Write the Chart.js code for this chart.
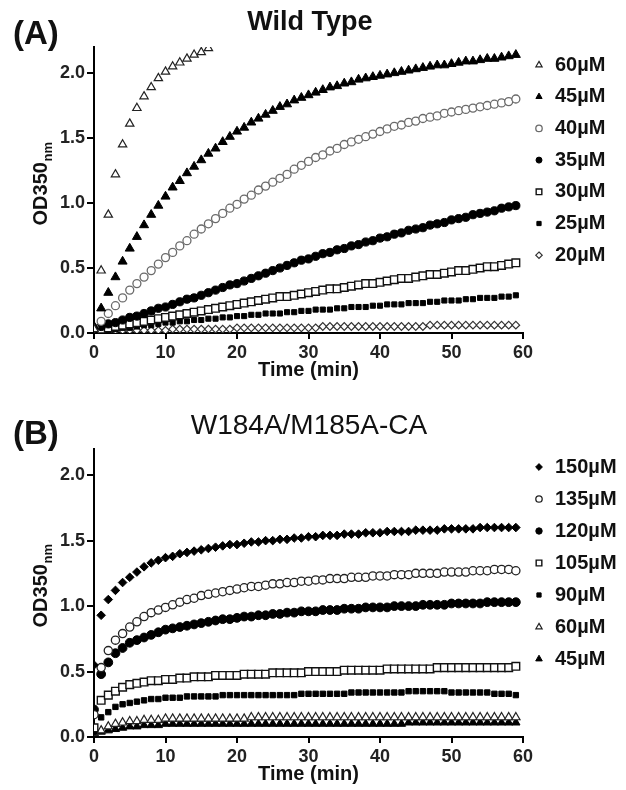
<!DOCTYPE html>
<html><head><meta charset="utf-8">
<script src="https://cdn.jsdelivr.net/npm/chart.js@4.4.1/dist/chart.umd.min.js"></script>
<style>
html,body{margin:0;padding:0;background:#fff;}
#wrap{position:relative;width:626px;height:790px;overflow:hidden;}
canvas{position:absolute;left:0;}
#c1{top:0}
#c2{top:395px}
</style></head><body>
<div id="wrap"><canvas id="c1" width="626" height="395"></canvas><canvas id="c2" width="626" height="395"></canvas></div>
<script>
// ---------- DATA ----------
const time = [0,1,2,3,4,5,6,7,8,9,10,11,12,13,14,15,16,17,18,19,20,21,22,23,24,25,26,27,28,29,
  30,31,32,33,34,35,36,37,38,39,40,41,42,43,44,45,46,47,48,49,50,51,52,53,54,55,56,57,58,59];
const xTicks = [0,10,20,30,40,50,60];
const yTicks = [0.0,0.5,1.0,1.5,2.0];

// Panel A: Wild Type
const wtLabels = ['60µM','45µM','40µM','35µM','30µM','25µM','20µM'];
const wt60 = [0.03,0.48,0.91,1.22,1.45,1.61,1.73,1.82,1.89,1.96,2.01,2.05,2.08,2.11,2.14,2.16,2.19];
const wt45 = [0.05,0.19,0.31,0.43,0.55,0.65,0.74,0.83,0.91,0.98,
  1.05,1.12,1.17,1.23,1.28,1.33,1.38,1.42,1.47,1.51,
  1.55,1.58,1.62,1.65,1.68,1.71,1.74,1.76,1.79,1.81,
  1.83,1.85,1.87,1.89,1.90,1.92,1.93,1.95,1.96,1.97,
  1.98,1.99,2.00,2.01,2.02,2.03,2.04,2.05,2.06,2.06,
  2.07,2.08,2.09,2.09,2.10,2.11,2.11,2.12,2.13,2.14];
const wt40 = [0.04,0.09,0.15,0.21,0.27,0.33,0.38,0.43,0.48,0.53,
  0.58,0.62,0.67,0.71,0.76,0.80,0.84,0.88,0.92,0.96,
  0.99,1.03,1.06,1.10,1.13,1.16,1.19,1.22,1.26,1.29,
  1.32,1.35,1.37,1.40,1.42,1.45,1.47,1.49,1.51,1.53,
  1.55,1.57,1.59,1.60,1.62,1.63,1.65,1.66,1.67,1.69,
  1.70,1.71,1.72,1.73,1.74,1.75,1.76,1.77,1.78,1.80];
const wt35 = [0.03,0.05,0.07,0.08,0.10,0.12,0.13,0.15,0.17,0.19,
  0.20,0.22,0.24,0.26,0.27,0.29,0.31,0.33,0.35,0.37,
  0.38,0.40,0.42,0.44,0.46,0.48,0.50,0.52,0.54,0.56,
  0.57,0.59,0.61,0.62,0.64,0.65,0.67,0.68,0.70,0.71,
  0.73,0.74,0.76,0.77,0.79,0.80,0.81,0.83,0.84,0.85,
  0.87,0.88,0.89,0.91,0.92,0.93,0.94,0.96,0.97,0.98];
const wt30 = [0.02,0.03,0.04,0.05,0.06,0.07,0.08,0.09,0.10,0.11,
  0.12,0.13,0.14,0.15,0.16,0.17,0.18,0.19,0.20,0.21,
  0.22,0.23,0.24,0.25,0.26,0.27,0.28,0.28,0.29,0.30,
  0.31,0.32,0.33,0.34,0.34,0.35,0.36,0.37,0.38,0.38,
  0.39,0.40,0.41,0.42,0.42,0.43,0.44,0.45,0.45,0.46,
  0.47,0.48,0.48,0.49,0.50,0.51,0.51,0.52,0.53,0.54];
const wt25 = [0.01,0.02,0.02,0.03,0.04,0.04,0.05,0.06,0.06,0.07,
  0.08,0.08,0.09,0.09,0.10,0.10,0.11,0.11,0.12,0.12,
  0.13,0.13,0.14,0.14,0.15,0.15,0.15,0.16,0.16,0.17,
  0.17,0.18,0.18,0.18,0.19,0.19,0.20,0.20,0.20,0.21,
  0.21,0.22,0.22,0.22,0.23,0.23,0.23,0.24,0.24,0.25,
  0.25,0.25,0.26,0.26,0.27,0.27,0.27,0.28,0.28,0.29];
const wt20 = [0.01,0.01,0.01,0.02,0.02,0.02,0.02,0.02,0.02,0.02,
  0.02,0.03,0.03,0.03,0.03,0.03,0.03,0.03,0.03,0.03,
  0.04,0.04,0.04,0.04,0.04,0.04,0.04,0.04,0.04,0.04,
  0.04,0.04,0.05,0.05,0.05,0.05,0.05,0.05,0.05,0.05,
  0.05,0.05,0.05,0.05,0.05,0.05,0.05,0.06,0.06,0.06,
  0.06,0.06,0.06,0.06,0.06,0.06,0.06,0.06,0.06,0.06];

// Panel B: W184A/M185A-CA
const mtLabels = ['150µM','135µM','120µM','105µM','90µM','60µM','45µM'];
const mt150 = [0.55,0.93,1.05,1.12,1.18,1.22,1.26,1.30,1.33,1.35,
  1.37,1.38,1.40,1.41,1.42,1.43,1.44,1.45,1.46,1.47,
  1.47,1.48,1.49,1.49,1.50,1.50,1.51,1.51,1.52,1.52,
  1.53,1.53,1.54,1.54,1.54,1.55,1.55,1.55,1.56,1.56,
  1.56,1.57,1.57,1.57,1.57,1.58,1.58,1.58,1.58,1.59,
  1.59,1.59,1.59,1.59,1.60,1.60,1.60,1.60,1.60,1.60];
const mt135 = [0.17,0.53,0.66,0.74,0.79,0.84,0.88,0.92,0.95,0.97,
  0.99,1.01,1.03,1.05,1.06,1.08,1.09,1.10,1.11,1.12,
  1.13,1.14,1.15,1.15,1.16,1.17,1.17,1.18,1.18,1.19,
  1.19,1.20,1.20,1.21,1.21,1.21,1.22,1.22,1.22,1.23,
  1.23,1.23,1.24,1.24,1.24,1.25,1.25,1.25,1.25,1.26,
  1.26,1.26,1.26,1.27,1.27,1.27,1.28,1.28,1.28,1.27];
const mt120 = [0.21,0.48,0.57,0.64,0.68,0.72,0.74,0.76,0.78,0.80,
  0.82,0.83,0.84,0.85,0.86,0.87,0.88,0.89,0.90,0.90,
  0.91,0.92,0.92,0.93,0.93,0.94,0.94,0.95,0.95,0.96,
  0.96,0.96,0.97,0.97,0.97,0.98,0.98,0.98,0.99,0.99,
  0.99,0.99,1.00,1.00,1.00,1.00,1.01,1.01,1.01,1.01,
  1.02,1.02,1.02,1.02,1.02,1.03,1.03,1.03,1.03,1.03];
const mt105 = [0.07,0.28,0.32,0.35,0.38,0.40,0.41,0.42,0.43,0.43,
  0.44,0.44,0.45,0.45,0.46,0.46,0.46,0.47,0.47,0.47,
  0.47,0.48,0.48,0.48,0.48,0.49,0.49,0.49,0.49,0.49,
  0.50,0.50,0.50,0.50,0.50,0.51,0.51,0.51,0.51,0.51,
  0.51,0.52,0.52,0.52,0.52,0.52,0.52,0.52,0.53,0.53,
  0.53,0.53,0.53,0.53,0.53,0.53,0.53,0.53,0.53,0.54];
const mt90 = [0.04,0.15,0.19,0.23,0.25,0.26,0.27,0.28,0.29,0.29,
  0.30,0.30,0.30,0.31,0.31,0.31,0.31,0.31,0.32,0.32,
  0.32,0.32,0.32,0.32,0.32,0.32,0.32,0.32,0.32,0.33,
  0.33,0.33,0.33,0.33,0.33,0.33,0.34,0.34,0.34,0.34,
  0.34,0.34,0.34,0.34,0.35,0.35,0.35,0.35,0.35,0.35,
  0.34,0.34,0.34,0.34,0.34,0.34,0.33,0.33,0.33,0.32];
const mt60 = [0.03,0.05,0.08,0.10,0.11,0.12,0.12,0.13,0.13,0.13,
  0.14,0.14,0.14,0.14,0.14,0.14,0.14,0.14,0.14,0.14,
  0.14,0.14,0.15,0.15,0.15,0.15,0.15,0.15,0.15,0.15,
  0.15,0.15,0.15,0.15,0.15,0.15,0.15,0.15,0.15,0.15,
  0.15,0.15,0.15,0.15,0.15,0.15,0.15,0.15,0.15,0.15,
  0.15,0.15,0.15,0.15,0.15,0.15,0.15,0.15,0.15,0.15];
const mt45 = [0.02,0.04,0.05,0.06,0.07,0.08,0.08,0.09,0.09,0.09,
  0.10,0.10,0.10,0.10,0.10,0.10,0.10,0.10,0.10,0.10,
  0.10,0.10,0.10,0.10,0.10,0.10,0.10,0.10,0.10,0.10,
  0.10,0.10,0.10,0.10,0.10,0.10,0.10,0.10,0.10,0.10,
  0.10,0.10,0.10,0.10,0.11,0.11,0.11,0.11,0.11,0.11,
  0.11,0.11,0.11,0.11,0.11,0.11,0.11,0.11,0.11,0.11];

// ---------- STYLES ----------
const FONT = "'Liberation Sans', Arial, Helvetica, sans-serif";
const WHITE = '#ffffff', BLACK = '#000000';
const wtStyles = [
  {style:'triangle', r:4.8, fill:WHITE, stroke:'#222', lw:1.2, lr:3.6},
  {style:'triangle', r:5.2, fill:BLACK, stroke:BLACK, lw:1, lr:3.6},
  {style:'circle',   r:4.0, fill:WHITE, stroke:'#6a6a6a', lw:1.3, lr:3.2},
  {style:'circle',   r:4.1, fill:BLACK, stroke:BLACK, lw:1, lr:3.0},
  {style:'rect',     r:5.4, fill:WHITE, stroke:'#111', lw:1.4, lr:4.0},
  {style:'rect',     r:3.6, fill:BLACK, stroke:BLACK, lw:1, lr:3.0},
  {style:'rectRot',  r:3.8, fill:WHITE, stroke:'#333', lw:1.2, lr:3.2}
];
const mtStyles = [
  {style:'rectRot',  r:4.3, fill:BLACK, stroke:BLACK, lw:1, lr:3.4},
  {style:'circle',   r:4.1, fill:WHITE, stroke:'#222', lw:1.3, lr:3.2},
  {style:'circle',   r:4.4, fill:BLACK, stroke:BLACK, lw:1, lr:3.2},
  {style:'rect',     r:5.4, fill:WHITE, stroke:'#111', lw:1.4, lr:4.0},
  {style:'rect',     r:3.8, fill:BLACK, stroke:BLACK, lw:1, lr:3.0},
  {style:'triangle', r:4.8, fill:WHITE, stroke:'#222', lw:1.2, lr:3.6},
  {style:'triangle', r:4.8, fill:BLACK, stroke:BLACK, lw:1, lr:3.8}
];

function pts(vals){ return vals.map((v,i)=>({x: time[i], y: v})); }

function drawMarker(ctx, s, x, y, r){
  ctx.save();
  ctx.beginPath();
  ctx.lineWidth = s.lw; ctx.strokeStyle = s.stroke; ctx.fillStyle = s.fill;
  if (s.style === 'circle') { ctx.arc(x, y, r, 0, Math.PI*2); }
  else if (s.style === 'triangle') {
    ctx.moveTo(x, y - r);
    ctx.lineTo(x + r*Math.sin(Math.PI/3), y + r*0.5);
    ctx.lineTo(x - r*Math.sin(Math.PI/3), y + r*0.5);
    ctx.closePath();
  } else if (s.style === 'rect') {
    const h = r*Math.SQRT1_2; ctx.rect(x-h, y-h, 2*h, 2*h);
  } else if (s.style === 'rectRot') {
    ctx.moveTo(x, y-r); ctx.lineTo(x+r, y); ctx.lineTo(x, y+r); ctx.lineTo(x-r, y); ctx.closePath();
  }
  ctx.fill(); ctx.stroke();
  ctx.restore();
}

const decor = {
  id: 'decor',
  afterDraw(chart, args, o){
    const ctx = chart.ctx;
    ctx.save();
    ctx.fillStyle = '#111';
    ctx.textBaseline = 'middle';
    // panel label
    ctx.textAlign = 'left';
    ctx.font = `bold ${o.panelSize}px ${FONT}`;
    ctx.fillText(o.panel, o.panelX, o.panelY);
    // title
    ctx.textAlign = 'center';
    ctx.font = `${o.titleWeight} ${o.titleSize}px ${FONT}`;
    ctx.fillText(o.title, o.titleX, o.titleY);
    // y-axis title with subscript
    ctx.save();
    ctx.textBaseline = 'alphabetic';
    ctx.textAlign = 'left';
    const mainF = `bold 20px ${FONT}`, subF = `bold 13px ${FONT}`;
    ctx.font = mainF; const w1 = ctx.measureText('OD350').width;
    ctx.font = subF; const w2 = ctx.measureText('nm').width;
    ctx.translate(o.yTitleX, o.yTitleY);
    ctx.rotate(-Math.PI/2);
    const start = -(w1 + w2)/2;
    ctx.font = mainF; ctx.fillText('OD350', start, 0);
    ctx.font = subF; ctx.fillText('nm', start + w1 + 0.5, 5);
    ctx.restore();
    // legend
    ctx.textAlign = 'left';
    ctx.font = `bold 20px ${FONT}`;
    o.labels.forEach((lab, i) => {
      const y = o.legY + i*o.legStep;
      drawMarker(ctx, o.styles[i], o.legMX, y, o.styles[i].lr);
      ctx.fillStyle = '#111';
      ctx.fillText(lab, o.legTX, y);
    });
    ctx.restore();
  }
};

function makeChart(id, labels, seriesVals, styles, cfg){
  const tickFont = {family: FONT, size: 18, weight: 'bold'};
  return new Chart(document.getElementById(id), {
    type: 'scatter',
    data: {
      datasets: seriesVals.map((vals, i) => ({
        label: labels[i],
        data: pts(vals),
        pointStyle: styles[i].style,
        pointRadius: styles[i].r,
        pointHoverRadius: styles[i].r,
        backgroundColor: styles[i].fill,
        borderColor: styles[i].stroke,
        borderWidth: styles[i].lw,
        showLine: false
      }))
    },
    options: {
      responsive: false, animation: false, events: [],
      layout: {padding: {left: 0, right: 103, top: cfg.padTop, bottom: cfg.padBottom}},
      plugins: {
        legend: {display: false}, tooltip: {enabled: false},
        decor: Object.assign({labels, styles}, cfg.decor)
      },
      scales: {
        x: {
          type: 'linear', min: 0, max: 60,
          afterBuildTicks: s => { s.ticks = xTicks.map(v => ({value: v})); },
          ticks: {font: tickFont, color: '#222', padding: 3, maxRotation: 0, callback: v => String(v)},
          grid: {drawOnChartArea: false, color: '#000', lineWidth: 2, tickLength: 6},
          border: {color: '#000', width: 2},
          title: {display: true, text: 'Time (min)', color: '#111',
                  font: {family: FONT, size: 20, weight: 'bold'}, padding: {top: 0, bottom: 1}},
          afterFit: s => { s.height = 50; }
        },
        y: {
          type: 'linear', min: 0, max: 2.2,
          afterBuildTicks: s => { s.ticks = yTicks.map(v => ({value: v})); },
          ticks: {font: tickFont, color: '#222', padding: 2, callback: v => Number(v).toFixed(1)},
          grid: {drawOnChartArea: false, color: '#000', lineWidth: 2, tickLength: 7},
          border: {color: '#000', width: 2},
          afterFit: s => { s.width = 94; }
        }
      }
    },
    plugins: [decor]
  });
}

makeChart('c1', wtLabels, [wt60, wt45, wt40, wt35, wt30, wt25, wt20], wtStyles, {
  padTop: 47, padBottom: 12,
  decor: {panel: '(A)', panelSize: 33, panelX: 13, panelY: 35,
          title: 'Wild Type', titleWeight: 'bold', titleSize: 27, titleX: 310, titleY: 23,
          yTitleX: 47, yTitleY: 184,
          legMX: 539, legTX: 555, legY: 65, legStep: 31.7}
});
makeChart('c2', mtLabels, [mt150, mt135, mt120, mt105, mt90, mt60, mt45], mtStyles, {
  padTop: 54, padBottom: 3,
  decor: {panel: '(B)', panelSize: 33, panelX: 13, panelY: 40,
          title: 'W184A/M185A-CA', titleWeight: 'normal', titleSize: 28, titleX: 309, titleY: 31,
          yTitleX: 47, yTitleY: 191,
          legMX: 539, legTX: 555, legY: 72, legStep: 32}
});
</script>
</body></html>
